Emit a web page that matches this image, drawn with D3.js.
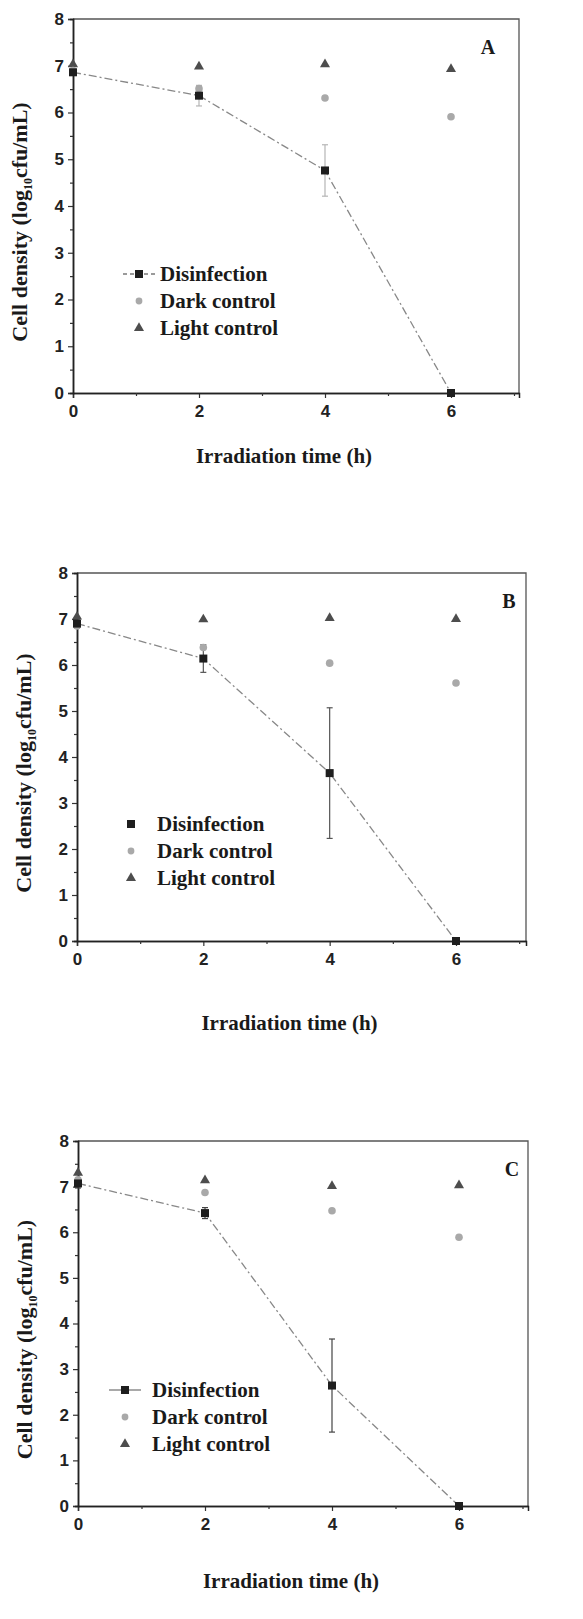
<!DOCTYPE html>
<html lang="en">
<head>
    <meta charset="UTF-8">
    <title>Cell density vs irradiation time</title>
    <script src="https://d3js.org/d3.v7.min.js"></script>
    <style>
        body { margin: 0; background: #fff; }
        svg { display: block; }
        .tick text { font-family: "Liberation Sans", Arial, sans-serif; font-weight: bold; font-size: 17px; fill: #222; }
        .serif { font-family: "Liberation Serif", "Times New Roman", serif; font-weight: bold; fill: #1a1a1a; }
    </style>
</head>
<body>
    <svg id="chart" width="583" height="1619"></svg>
    <script>
        // shared axes values
        const times = [0, 2, 4, 6];
        const xTicks = [0, 2, 4, 6];
        const xMinor = [1, 3, 5, 7];
        const yTicks = [0, 1, 2, 3, 4, 5, 6, 7, 8];
        const yMinor = [0.5, 1.5, 2.5, 3.5, 4.5, 5.5, 6.5, 7.5];
        const seriesNames = ["Disinfection", "Dark control", "Light control"];
        const panelLabels = ["A", "B", "C"];

        // panel A
        const disA = [6.86, 6.36, 4.76, 0];
        const disErrA = [0.05, 0.22, 0.55, 0];
        const darkA = [6.9, 6.51, 6.31, 5.91];
        const lightA = [7.03, 6.98, 7.03, 6.93];

        // panel B
        const disB = [6.9, 6.14, 3.65, 0];
        const disErrB = [0.1, 0.3, 1.42, 0];
        const darkB = [6.85, 6.38, 6.04, 5.61];
        const lightB = [7.05, 6.99, 7.02, 7.0];

        // panel C
        const disC = [7.07, 6.42, 2.64, 0];
        const disErrC = [0.1, 0.12, 1.02, 0];
        const darkC = [7.15, 6.87, 6.47, 5.89];
        const lightC = [7.3, 7.14, 7.01, 7.03];

        const panelData = [
            {dis: disA, err: disErrA, dark: darkA, light: lightA},
            {dis: disB, err: disErrB, dark: darkB, light: lightB},
            {dis: disC, err: disErrC, dark: darkC, light: lightC}
        ];

        // layout of each panel (pixels); x6 = pixel of 6 h, right = frame edge
        const layout = [
            {left: 73, x6: 451, right: 519, top: 19, bottom: 393, titleOff: 70, legX: 139, legGap: 21, legY: 274, labX: 488, errColor: "#b5b5b5", legLine: true},
            {left: 77, x6: 456, right: 526, top: 573, bottom: 941, titleOff: 89, legX: 131, legGap: 26, legY: 824, labX: 509, errColor: "#555", legLine: false},
            {left: 78, x6: 459, right: 528, top: 1141, bottom: 1506, titleOff: 82, legX: 125, legGap: 27, legY: 1390, labX: 512, errColor: "#444", legLine: true}
        ];

        const svg = d3.select("#chart");
        const triangle = d3.symbol().type(d3.symbolTriangle).size(44);

        layout.forEach((p, i) => {
            const d = panelData[i];
            const g = svg.append("g");
            const x = d3.scaleLinear().domain([0, 6]).range([p.left, p.x6]);
            const y = d3.scaleLinear().domain([0, 8]).range([p.bottom, p.top]);

            // top and right frame
            g.append("path")
             .attr("d", `M${p.left},${p.top}H${p.right}V${p.bottom}`)
             .attr("fill", "none").attr("stroke", "#555").attr("stroke-width", 1.3);

            const xs = x.copy().domain([0, x.invert(p.right)]).range([p.left, p.right]);
            g.append("g").attr("transform", `translate(0,${p.bottom})`)
               .call(d3.axisBottom(xs).tickValues(xTicks).tickSize(5).tickPadding(7).tickFormat(d3.format("d")));
            g.append("g").attr("transform", `translate(0,${p.bottom})`)
               .call(d3.axisBottom(xs).tickValues(xMinor).tickSize(3).tickFormat("").tickSizeOuter(0));
            g.append("g").attr("transform", `translate(${p.left},0)`)
               .call(d3.axisLeft(y).tickValues(yTicks).tickSize(5).tickPadding(4).tickFormat(d3.format("d")));
            g.append("g").attr("transform", `translate(${p.left},0)`)
               .call(d3.axisLeft(y).tickValues(yMinor).tickSize(3).tickFormat(""));
            g.selectAll(".domain").attr("stroke", "#222").attr("stroke-width", 1.5);
            g.selectAll(".tick line").attr("stroke", "#333").attr("stroke-width", 1.2);

            // axis titles
            g.append("text").attr("class", "serif")
             .attr("x", (p.left + p.right) / 2 - 12).attr("y", p.bottom + p.titleOff)
             .attr("text-anchor", "middle").attr("font-size", 21)
             .text("Irradiation time (h)");

            const yt = g.append("text").attr("class", "serif")
             .attr("transform", `translate(${p.left - 46},${(p.top + p.bottom) / 2 + 16}) rotate(-90)`)
             .attr("text-anchor", "middle").attr("font-size", 22);
            yt.append("tspan").text("Cell density (log");
            yt.append("tspan").attr("font-size", 12).attr("dy", 5).text("10");
            yt.append("tspan").attr("dy", -5).text("cfu/mL)");

            g.append("text").attr("class", "serif")
             .attr("x", p.labX).attr("y", y(7.5) + 12)
             .attr("text-anchor", "middle").attr("font-size", 20)
             .text(panelLabels[i]);

            // disinfection line
            const line = d3.line().x((v, j) => x(times[j])).y(v => y(v));
            g.append("path").datum(d.dis)
             .attr("d", line)
             .attr("fill", "none").attr("stroke", "#888").attr("stroke-width", 1.3)
             .attr("stroke-dasharray", "8,3,2,3");

            // error bars
            g.selectAll(".err").data(d.dis).join("g")
             .each(function(v, j) {
                 const e = d.err[j];
                 if (e <= 0.06) return;
                 const s = d3.select(this);
                 const cx = x(times[j]);
                 s.append("line").attr("x1", cx).attr("x2", cx).attr("y1", y(v - e)).attr("y2", y(v + e));
                 s.append("line").attr("x1", cx - 3).attr("x2", cx + 3).attr("y1", y(v - e)).attr("y2", y(v - e));
                 s.append("line").attr("x1", cx - 3).attr("x2", cx + 3).attr("y1", y(v + e)).attr("y2", y(v + e));
                 s.selectAll("line").attr("stroke", p.errColor).attr("stroke-width", 1.2);
             });

            // light control triangles
            g.selectAll(".light").data(d.light).join("path")
             .attr("d", triangle)
             .attr("transform", (v, j) => `translate(${x(times[j])},${y(v)})`)
             .attr("fill", "#4d4d4d");

            // dark control circles
            g.selectAll(".dark").data(d.dark).join("circle")
             .attr("cx", (v, j) => x(times[j])).attr("cy", v => y(v)).attr("r", 3.8)
             .attr("fill", "#a9a9a9");

            // disinfection squares
            g.selectAll(".dis").data(d.dis).join("rect")
             .attr("x", (v, j) => x(times[j]) - 4).attr("y", v => y(v) - 4)
             .attr("width", 8).attr("height", 8)
             .attr("fill", "#1e1e1e");

            // legend
            const rowH = 27;
            seriesNames.forEach((name, k) => {
                const ly = p.legY + k * rowH;
                if (k === 0) {
                    if (p.legLine) {
                        g.append("line").attr("x1", p.legX - 16).attr("x2", p.legX + 16)
                         .attr("y1", ly).attr("y2", ly)
                         .attr("stroke", "#7a7a7a").attr("stroke-width", 1.3)
                         .attr("stroke-dasharray", i === 0 ? "4,3" : null);
                    }
                    g.append("rect").attr("x", p.legX - 4).attr("y", ly - 4)
                     .attr("width", 8).attr("height", 8).attr("fill", "#1e1e1e");
                } else if (k === 1) {
                    g.append("circle").attr("cx", p.legX).attr("cy", ly).attr("r", 3.4).attr("fill", "#a9a9a9");
                } else {
                    g.append("path").attr("d", triangle)
                     .attr("transform", `translate(${p.legX},${ly})`).attr("fill", "#4d4d4d");
                }
                g.append("text").attr("class", "serif")
                 .attr("x", p.legX + p.legGap).attr("y", ly + 7)
                 .attr("font-size", 21)
                 .text(name);
            });
        });
    </script>
</body>
</html>
